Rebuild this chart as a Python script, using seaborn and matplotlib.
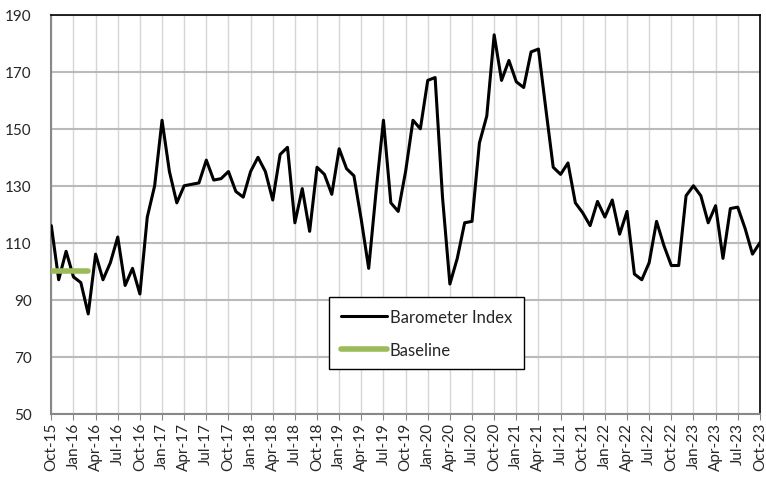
import numpy as np
import pandas as pd
import matplotlib
matplotlib.use("Agg")
import matplotlib.pyplot as plt
import seaborn as sns

months = pd.date_range("2015-10-01", "2023-10-01", freq="MS")
barometer = [
    116, 97, 107,
    98, 96, 85, 106, 97, 103, 112, 95, 101, 92, 119, 130,
    153, 135, 124, 130, 130.5, 131, 139, 132, 132.5, 135, 128, 126,
    135, 140, 135, 125, 141, 143.5, 117, 129, 114, 136.5, 134, 127,
    143, 136, 133.5, 118, 101, 128, 153, 124, 121, 135, 153, 150,
    167, 168, 126, 95.5, 104.5, 117, 117.5, 145, 154.5, 183, 167, 174,
    166.5, 164.5, 177, 178, 157, 136.5, 134, 138, 124, 120.5, 116, 124.5,
    119, 125, 113, 121, 99, 97, 103, 117.5, 109, 102, 102, 126.5,
    130, 126.5, 117, 123, 104.5, 122, 122.5, 115, 106, 110,
]
baseline = [100, 100, 100, 100, 100, 100]
tick_labels = [d.strftime("%b-%y") for d in months[::3]]
y_ticks = [50, 70, 90, 110, 130, 150, 170, 190]

df = pd.DataFrame({"idx": np.arange(len(months)), "value": barometer})
df_base = pd.DataFrame({"idx": np.arange(len(baseline)), "value": baseline})

sns.set_style("white", {"axes.grid": True, "grid.color": "#BFBFBF",
                        "xtick.bottom": True})
plt.rcParams["font.family"] = ["Lato", "DejaVu Sans"]

fig = plt.figure(figsize=(7.66, 4.81), dpi=100)
ax = fig.add_axes([0.067, 0.138, 0.925, 0.829])

sns.lineplot(data=df, x="idx", y="value", ax=ax, color="black", linewidth=2.2,
             label="Barometer Index", zorder=3)
sns.lineplot(data=df_base, x="idx", y="value", ax=ax, color="#9BBB59", linewidth=4,
             label="Baseline", zorder=4)

ax.set_xlim(0, len(months) - 1)
ax.set_ylim(50, 190)
ax.set_yticks(y_ticks)
ax.set_yticklabels([str(v) for v in y_ticks], fontsize=11)
ax.set_xticks(range(0, len(months), 3))
ax.set_xticklabels(tick_labels, rotation=90, fontsize=11)
ax.set_xlabel("")
ax.set_ylabel("")
ax.tick_params(axis="x", bottom=True, length=4, color="#888888", pad=2)
ax.tick_params(axis="y", length=0, pad=14)

# gridlines: light vertical every quarter, darker horizontal
ax.set_axisbelow(True)
ax.xaxis.grid(True, color="#D6D6D6", linewidth=1.0)
ax.yaxis.grid(True, color="#BABABA", linewidth=1.5)

for side in ["top", "right"]:
    ax.spines[side].set_color("black")
    ax.spines[side].set_linewidth(1.2)
for side in ["left", "bottom"]:
    ax.spines[side].set_color("#888888")
    ax.spines[side].set_linewidth(1.5)

leg = ax.legend(loc="lower left", bbox_to_anchor=(0.38, 0.09), fontsize=12,
                frameon=True, fancybox=False, edgecolor="black", framealpha=1,
                handlelength=2.8, handletextpad=0.15, labelspacing=1.0,
                borderpad=0.7)
leg.get_frame().set_linewidth(1.0)

fig.savefig("out.png", dpi=100, facecolor="white")
